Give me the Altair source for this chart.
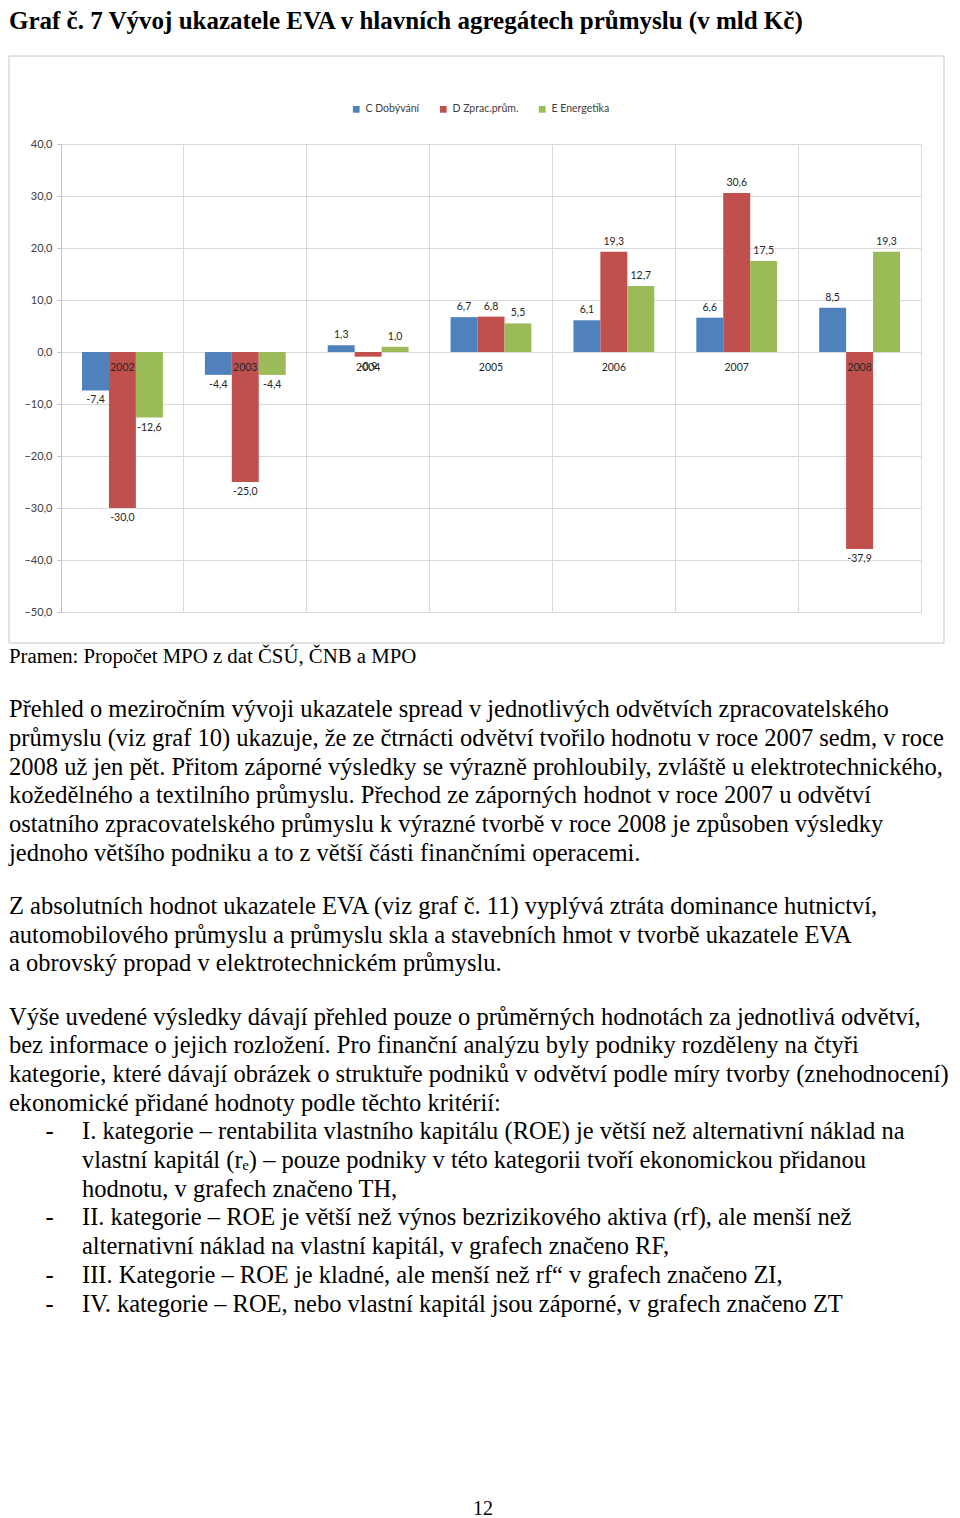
import altair as alt
import pandas as pd

# ---------------- chart data ----------------
years = ["2002", "2003", "2004", "2005", "2006", "2007", "2008"]
series = ["C Dobývání", "D Zprac.prům.", "E Energetika"]
c_vals = [-7.4, -4.4, 1.3, 6.7, 6.1, 6.6, 8.5]
d_vals = [-30.0, -25.0, -0.9, 6.8, 19.3, 30.6, -37.9]
e_vals = [-12.6, -4.4, 1.0, 5.5, 12.7, 17.5, 19.3]
colors = ["#4F81BD", "#C0504D", "#9BBB59"]
y_ticks = [-50, -40, -30, -20, -10, 0, 10, 20, 30, 40]

title_text = "Graf č. 7 Vývoj ukazatele EVA v hlavních agregátech průmyslu (v mld Kč)"

# ---------------- page text ----------------
source_line = "Pramen: Propočet MPO z dat ČSÚ, ČNB a MPO"
text_lines = [
    "Přehled o meziročním vývoji ukazatele spread v jednotlivých odvětvích zpracovatelského",
    "průmyslu (viz graf 10) ukazuje, že ze čtrnácti odvětví tvořilo hodnotu v roce 2007 sedm, v roce",
    "2008 už jen pět. Přitom záporné výsledky se výrazně prohloubily, zvláště u elektrotechnického,",
    "kožedělného a textilního průmyslu. Přechod ze záporných hodnot v roce 2007 u odvětví",
    "ostatního zpracovatelského průmyslu k výrazné tvorbě v roce 2008 je způsoben výsledky",
    "jednoho většího podniku a to z větší části finančními operacemi.",
    "Z absolutních hodnot ukazatele EVA (viz graf č. 11) vyplývá ztráta dominance hutnictví,",
    "automobilového průmyslu a průmyslu skla a stavebních hmot v tvorbě ukazatele EVA",
    "a obrovský propad v elektrotechnickém průmyslu.",
    "Výše uvedené výsledky dávají přehled pouze o průměrných hodnotách za jednotlivá odvětví,",
    "bez informace o jejich rozložení. Pro finanční analýzu byly podniky rozděleny na čtyři",
    "kategorie, které dávají obrázek o struktuře podniků v odvětví podle míry tvorby (znehodnocení)",
    "ekonomické přidané hodnoty podle těchto kritérií:",
    "I. kategorie – rentabilita vlastního kapitálu (ROE) je větší než alternativní náklad na",
    "vlastní kapitál (rₑ) – pouze podniky v této kategorii tvoří ekonomickou přidanou",
    "hodnotu, v grafech značeno TH,",
    "II. kategorie – ROE je větší než výnos bezrizikového aktiva (rf), ale menší než",
    "alternativní náklad na vlastní kapitál, v grafech značeno RF,",
    "III. Kategorie – ROE je kladné, ale menší než rf“ v grafech značeno ZI,",
    "IV. kategorie – ROE, nebo vlastní kapitál jsou záporné, v grafech značeno ZT",
]
paragraph = [1, 1, 1, 1, 1, 1, 2, 2, 2, 3, 3, 3, 3, 3, 3, 3, 3, 3, 3, 3]
indent = [0, 0, 0, 0, 0, 0, 0, 0, 0, 0, 0, 0, 0, 2, 2, 2, 2, 2, 2, 2]
bullet_lines = [13, 16, 18, 19]
page_number = "12"

# ---------------- build tables ----------------
rows = []
for s, vals in zip(series, [c_vals, d_vals, e_vals]):
    for y, v in zip(years, vals):
        rows.append({"year": y, "series": s, "value": v,
                     "label": f"{v:.1f}".replace(".", ",")})
df = pd.DataFrame(rows)

LINE_H = 28.7
PARA_GAP = 24.5
TOP = 7
tdf = pd.DataFrame({
    "text": text_lines,
    "level": indent,
    "ypos": [TOP + (i + 1) * LINE_H + p * PARA_GAP for i, p in enumerate(paragraph)],
})
bdf = pd.DataFrame({
    "text": ["-"] * len(bullet_lines),
    "level": [1] * len(bullet_lines),
    "ypos": [TOP + (i + 1) * LINE_H + paragraph[i] * PARA_GAP for i in bullet_lines],
})
sdf = pd.DataFrame({"text": [source_line], "level": [0], "ypos": [TOP]})

GRID = "#d9d9d9"
CFONT = "Lato"
SERIF = "Liberation Serif"

x_enc = alt.X("year:N", sort=years,
              scale=alt.Scale(paddingInner=0, paddingOuter=0),
              axis=alt.Axis(title=None, labels=False, ticks=False, domain=False,
                            grid=True, bandPosition=0, gridColor=GRID))
xo_enc = alt.XOffset("series:N", sort=series,
                     scale=alt.Scale(paddingInner=0, paddingOuter=0.78))
y_enc = alt.Y("value:Q",
              scale=alt.Scale(domain=[-50, 40], nice=False),
              axis=alt.Axis(title=None, values=y_ticks,
                            labelExpr="replace(format(datum.value, '.1f'), '.', ',')",
                            grid=True, gridColor=GRID, domainColor="#bfbfbf",
                            tickColor="#bfbfbf", tickSize=4, labelPadding=5,
                            labelFont=CFONT, labelFontSize=11, labelColor="#404040"))

bars = alt.Chart(df).mark_bar().encode(
    x=x_enc, xOffset=xo_enc, y=y_enc,
    color=alt.Color("series:N", sort=series,
                    scale=alt.Scale(domain=series, range=colors),
                    legend=alt.Legend(title=None, orient="none", direction="horizontal",
                                      legendX=290, legendY=-40, symbolType="square",
                                      symbolSize=45, symbolStrokeWidth=0,
                                      labelFont=CFONT, labelFontSize=10.5,
                                      labelColor="#404040", columnPadding=18)),
)

pos_labels = alt.Chart(df).transform_filter("datum.value >= 0").mark_text(
    baseline="bottom", dy=-5, font=CFONT, fontSize=10.5, color="#262626"
).encode(x=alt.X("year:N", sort=years), xOffset=alt.XOffset("series:N", sort=series),
         y="value:Q", text="label:N")

neg_labels = alt.Chart(df).transform_filter("datum.value < 0").mark_text(
    baseline="top", dy=5, font=CFONT, fontSize=10.5, color="#262626"
).encode(x=alt.X("year:N", sort=years), xOffset=alt.XOffset("series:N", sort=series),
         y="value:Q", text="label:N")

year_labels = alt.Chart(pd.DataFrame({"year": years})).mark_text(
    baseline="middle", dy=16, font=CFONT, fontSize=10.5, color="#262626"
).encode(x=alt.X("year:N", sort=years), y=alt.datum(0), text="year:N")

frame = alt.Chart(pd.DataFrame({"f": [0]})).mark_rect(
    fill="transparent", stroke="#c6c6c6", strokeWidth=1
).encode(x=alt.value(-52), x2=alt.value(883), y=alt.value(-88), y2=alt.value(499))

title_mark = alt.Chart(pd.DataFrame({"t": [title_text]})).mark_text(
    align="left", baseline="alphabetic", font=SERIF, fontSize=25, fontWeight="bold",
    color="black"
).encode(x=alt.value(-52), y=alt.value(-115), text="t:N")

chart_panel = alt.layer(title_mark, frame, bars, pos_labels, neg_labels, year_labels).properties(
    width=860, height=468, view=alt.ViewBackground(stroke=GRID)
)

xs = alt.Scale(domain=[0, 2], range=[-52, 21])
ys = alt.Scale(domain=[0, 860], range=[0, 860])

body = alt.Chart(tdf).mark_text(
    align="left", baseline="middle", font=SERIF, fontSize=24.5, color="black"
).encode(
    x=alt.X("level:Q", scale=xs, axis=None),
    y=alt.Y("ypos:Q", scale=ys, axis=None),
    text="text:N",
)
bullets = alt.Chart(bdf).mark_text(
    align="left", baseline="middle", font=SERIF, fontSize=24.5, color="black"
).encode(
    x=alt.X("level:Q", scale=xs, axis=None),
    y=alt.Y("ypos:Q", scale=ys, axis=None),
    text="text:N",
)
source = alt.Chart(sdf).mark_text(
    align="left", baseline="middle", font=SERIF, fontSize=20.8, color="black"
).encode(
    x=alt.X("level:Q", scale=xs, axis=None),
    y=alt.Y("ypos:Q", scale=ys, axis=None),
    text="text:N",
)
pnum = alt.Chart(pd.DataFrame({"t": [page_number]})).mark_text(
    align="center", baseline="middle", font=SERIF, fontSize=20, color="black"
).encode(x=alt.value(422), y=alt.value(859), text="t:N")

text_panel = alt.layer(source, body, bullets, pnum).properties(
    width=860, height=860, view=alt.ViewBackground(stroke="transparent")
)

chart = alt.vconcat(chart_panel, text_panel, spacing=1).resolve_scale(
    x="independent", y="independent").properties(padding=0)

chart.save("out.html", embed_options={"renderer": "svg", "actions": False})
